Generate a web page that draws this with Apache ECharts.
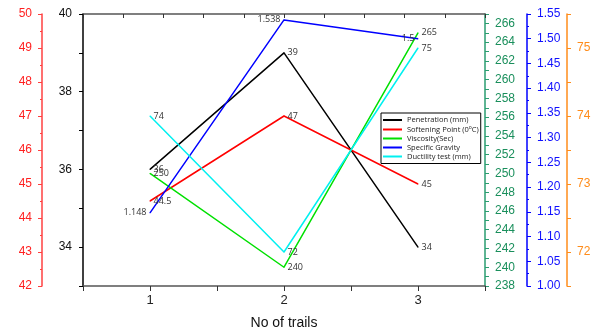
<!DOCTYPE html>
<html><head><meta charset="utf-8">
<script src="https://cdn.jsdelivr.net/npm/echarts@6/dist/echarts.min.js"></script>
<style>html,body{margin:0;padding:0;background:#fff}#c{width:597px;height:331px}</style>
</head><body><div id="c"></div>
<script>
var trials = [1, 2, 3];
var penetration = [36, 39, 34];
var softening = [44.5, 47, 45];
var viscosity = [250, 240, 265];
var gravity = [1.148, 1.538, 1.5];
var ductility = [74, 72, 75];
var seriesNames = ['Penetration (mm)', 'Softening Point (0oC)', 'Viscosity(Sec)', 'Specific Gravity', 'Ductility test (mm)'];

function pairs(arr){ return trials.map(function(t,i){ return [t, arr[i]]; }); }
var chart = echarts.init(document.getElementById('c'));
var F = 'Liberation Sans, Arial, sans-serif';
function yax(o){
  return Object.assign({
    type:'value', splitLine:{show:false},
    axisLine:{show:true, lineStyle:{width:1.5}},
    axisTick:{show:true, inside:false, length:4},
    axisLabel:{fontFamily:F, fontSize:12, margin:10}
  }, o);
}
function mkSeries(name, data, yi, color, pos){
  return {name:name, type:'line', yAxisIndex:yi, data:pairs(data), symbol:'circle', symbolSize:1,
    lineStyle:{color:color, width:1.5}, itemStyle:{color:color},
    label:{show:true, position:pos, distance:3, color:'#333', fontSize:9, fontFamily:'Open Sans, sans-serif'},
    animation:false};
}
chart.setOption({
  animation:false,
  grid:{left:83, right:112, top:14, bottom:45, containLabel:false, outerBoundsMode:'none'},
  legend:{
    orient:'vertical', left:381, top:113, width:96,
    backgroundColor:'#fff', borderColor:'#000', borderWidth:1, padding:[3,2,3,2],
    itemGap:1, itemWidth:19, itemHeight:2, icon:'rect',
    textStyle:{fontSize:7.5, color:'#222', fontFamily:'Open Sans, sans-serif',
      rich:{a:{fontSize:7.5, color:'#222'}, s:{fontSize:5, color:'#222', verticalAlign:'top', padding:[0,0,4,0]}}},
    formatter:function(n){ if(n===seriesNames[1]) return '{a|Softening Point (0}{s|o}{a|C)}'; return n; },
    data:seriesNames
  },
  xAxis:[
    {type:'value', min:0.5, max:3.5, interval:0.5, position:'bottom',
     splitLine:{show:false},
     axisLine:{lineStyle:{color:'#555', width:1.5}},
     axisTick:{show:true, length:5, lineStyle:{color:'#333'}},
     axisLabel:{fontFamily:F, fontSize:13, color:'#222', margin:8,
       formatter:function(v){ return (Math.abs(v-Math.round(v))<1e-6) ? String(Math.round(v)) : ''; }},
     name:'No of trails', nameLocation:'middle', nameGap:30,
     nameTextStyle:{fontFamily:F, fontSize:14, color:'#111'}},
    {type:'value', min:0.5, max:3.5, interval:0.3, position:'top',
     splitLine:{show:false},
     axisLine:{lineStyle:{color:'#555', width:1.5}},
     axisTick:{show:true, inside:true, length:4, lineStyle:{color:'#333'}},
     axisLabel:{show:false}}
  ],
  yAxis:[
    yax({position:'left', offset:41, min:42, max:50, interval:1,
      axisLine:{show:true, lineStyle:{color:'#ff4040', width:1.5}},
      axisTick:{show:true, length:4, lineStyle:{color:'#ff4040'}},
      minorTick:{show:true, splitNumber:2, length:2, lineStyle:{color:'#ff4040'}},
      axisLabel:{fontFamily:F, fontSize:12, color:'#ff2020', margin:10}}),
    yax({position:'left', offset:0, min:33, max:40, interval:1,
      axisLine:{show:true, lineStyle:{color:'#000', width:1.5}},
      axisTick:{show:true, length:4, lineStyle:{color:'#000'}},
      axisLabel:{fontFamily:F, fontSize:12, color:'#111', margin:11,
        formatter:function(v){ return v%2===0 ? String(v) : ''; }}}),
    yax({position:'right', offset:0, min:238, max:267, interval:1,
      axisLine:{show:true, lineStyle:{color:'#2a9d70', width:1.5}},
      axisTick:{show:true, length:4, lineStyle:{color:'#2a9d70'}},
      axisLabel:{fontFamily:F, fontSize:12, color:'#1a8f5c', margin:10,
        formatter:function(v){ return (v-238)%2===0 ? String(v) : ''; }}}),
    yax({position:'right', offset:42, min:1.0, max:1.55, interval:0.05,
      axisLine:{show:true, lineStyle:{color:'#0000ff', width:1.5}},
      axisTick:{show:true, length:4, lineStyle:{color:'#0000ff'}},
      minorTick:{show:true, splitNumber:2, length:2, lineStyle:{color:'#0000ff'}},
      axisLabel:{fontFamily:F, fontSize:12, color:'#1010ff', margin:10,
        formatter:function(v){ return v.toFixed(2); }}}),
    yax({position:'right', offset:82, min:71.5, max:75.5, interval:0.5,
      axisLine:{show:true, lineStyle:{color:'#ff8c1a', width:1.5}},
      axisTick:{show:true, length:4, lineStyle:{color:'#ff8c1a'}},
      axisLabel:{fontFamily:F, fontSize:12, color:'#ff8c1a', margin:10,
        formatter:function(v){ return (Math.abs(v-Math.round(v))<1e-6) ? String(Math.round(v)) : ''; }}})
  ],
  series:[
    mkSeries(seriesNames[0], penetration, 1, '#000000', 'right'),
    mkSeries(seriesNames[1], softening, 0, '#ff0000', 'right'),
    mkSeries(seriesNames[2], viscosity, 2, '#00e000', 'right'),
    mkSeries(seriesNames[3], gravity, 3, '#0000ff', 'left'),
    mkSeries(seriesNames[4], ductility, 4, '#00f0f0', 'right')
  ]
});
</script></body></html>
